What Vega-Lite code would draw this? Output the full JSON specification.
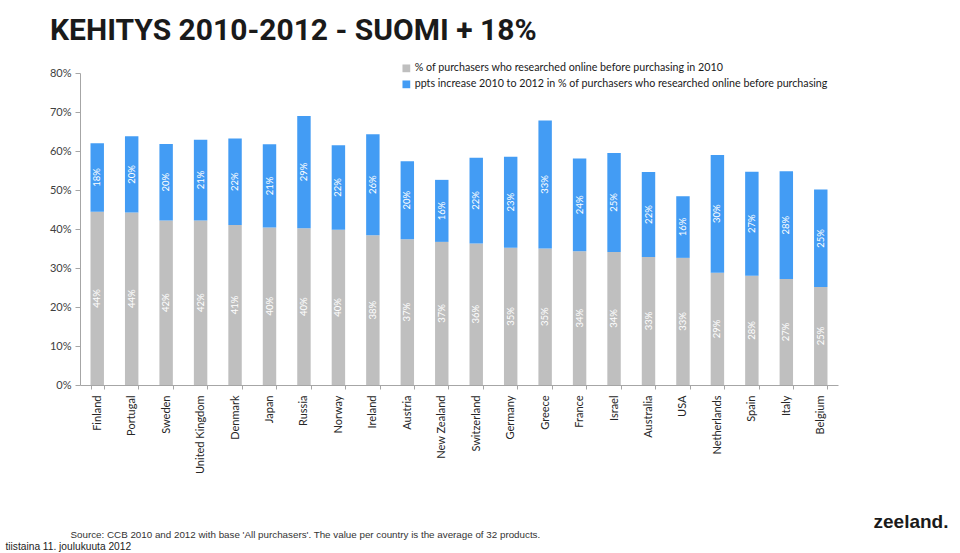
{
  "$schema": "https://vega.github.io/schema/vega-lite/v6.json",
  "width": 758,
  "height": 312,
  "autosize": {"type": "none"},
  "padding": {"left": 80, "top": 73, "right": 122, "bottom": 168},
  "background": "white",
  "config": {"view": {"stroke": null}, "font": "Lato"},
  "title": {
    "text": "KEHITYS 2010-2012 - SUOMI + 18%",
    "anchor": "start",
    "frame": "group",
    "dx": -30,
    "offset": 17,
    "font": "Roboto",
    "fontSize": 30,
    "fontWeight": "bold",
    "color": "#1a1a1a"
  },
  "data": {
    "values": [
      {"country": "Finland", "series": "% of purchasers who researched online before purchasing in 2010", "value": 0.444},
      {"country": "Finland", "series": "ppts increase 2010 to 2012 in % of purchasers who researched online before purchasing", "value": 0.176},
      {"country": "Portugal", "series": "% of purchasers who researched online before purchasing in 2010", "value": 0.442},
      {"country": "Portugal", "series": "ppts increase 2010 to 2012 in % of purchasers who researched online before purchasing", "value": 0.196},
      {"country": "Sweden", "series": "% of purchasers who researched online before purchasing in 2010", "value": 0.422},
      {"country": "Sweden", "series": "ppts increase 2010 to 2012 in % of purchasers who researched online before purchasing", "value": 0.196},
      {"country": "United Kingdom", "series": "% of purchasers who researched online before purchasing in 2010", "value": 0.422},
      {"country": "United Kingdom", "series": "ppts increase 2010 to 2012 in % of purchasers who researched online before purchasing", "value": 0.207},
      {"country": "Denmark", "series": "% of purchasers who researched online before purchasing in 2010", "value": 0.410},
      {"country": "Denmark", "series": "ppts increase 2010 to 2012 in % of purchasers who researched online before purchasing", "value": 0.222},
      {"country": "Japan", "series": "% of purchasers who researched online before purchasing in 2010", "value": 0.404},
      {"country": "Japan", "series": "ppts increase 2010 to 2012 in % of purchasers who researched online before purchasing", "value": 0.213},
      {"country": "Russia", "series": "% of purchasers who researched online before purchasing in 2010", "value": 0.402},
      {"country": "Russia", "series": "ppts increase 2010 to 2012 in % of purchasers who researched online before purchasing", "value": 0.288},
      {"country": "Norway", "series": "% of purchasers who researched online before purchasing in 2010", "value": 0.398},
      {"country": "Norway", "series": "ppts increase 2010 to 2012 in % of purchasers who researched online before purchasing", "value": 0.217},
      {"country": "Ireland", "series": "% of purchasers who researched online before purchasing in 2010", "value": 0.384},
      {"country": "Ireland", "series": "ppts increase 2010 to 2012 in % of purchasers who researched online before purchasing", "value": 0.259},
      {"country": "Austria", "series": "% of purchasers who researched online before purchasing in 2010", "value": 0.374},
      {"country": "Austria", "series": "ppts increase 2010 to 2012 in % of purchasers who researched online before purchasing", "value": 0.200},
      {"country": "New Zealand", "series": "% of purchasers who researched online before purchasing in 2010", "value": 0.367},
      {"country": "New Zealand", "series": "ppts increase 2010 to 2012 in % of purchasers who researched online before purchasing", "value": 0.159},
      {"country": "Switzerland", "series": "% of purchasers who researched online before purchasing in 2010", "value": 0.363},
      {"country": "Switzerland", "series": "ppts increase 2010 to 2012 in % of purchasers who researched online before purchasing", "value": 0.220},
      {"country": "Germany", "series": "% of purchasers who researched online before purchasing in 2010", "value": 0.352},
      {"country": "Germany", "series": "ppts increase 2010 to 2012 in % of purchasers who researched online before purchasing", "value": 0.233},
      {"country": "Greece", "series": "% of purchasers who researched online before purchasing in 2010", "value": 0.350},
      {"country": "Greece", "series": "ppts increase 2010 to 2012 in % of purchasers who researched online before purchasing", "value": 0.328},
      {"country": "France", "series": "% of purchasers who researched online before purchasing in 2010", "value": 0.343},
      {"country": "France", "series": "ppts increase 2010 to 2012 in % of purchasers who researched online before purchasing", "value": 0.238},
      {"country": "Israel", "series": "% of purchasers who researched online before purchasing in 2010", "value": 0.341},
      {"country": "Israel", "series": "ppts increase 2010 to 2012 in % of purchasers who researched online before purchasing", "value": 0.254},
      {"country": "Australia", "series": "% of purchasers who researched online before purchasing in 2010", "value": 0.328},
      {"country": "Australia", "series": "ppts increase 2010 to 2012 in % of purchasers who researched online before purchasing", "value": 0.218},
      {"country": "USA", "series": "% of purchasers who researched online before purchasing in 2010", "value": 0.326},
      {"country": "USA", "series": "ppts increase 2010 to 2012 in % of purchasers who researched online before purchasing", "value": 0.158},
      {"country": "Netherlands", "series": "% of purchasers who researched online before purchasing in 2010", "value": 0.288},
      {"country": "Netherlands", "series": "ppts increase 2010 to 2012 in % of purchasers who researched online before purchasing", "value": 0.302},
      {"country": "Spain", "series": "% of purchasers who researched online before purchasing in 2010", "value": 0.280},
      {"country": "Spain", "series": "ppts increase 2010 to 2012 in % of purchasers who researched online before purchasing", "value": 0.267},
      {"country": "Italy", "series": "% of purchasers who researched online before purchasing in 2010", "value": 0.272},
      {"country": "Italy", "series": "ppts increase 2010 to 2012 in % of purchasers who researched online before purchasing", "value": 0.276},
      {"country": "Belgium", "series": "% of purchasers who researched online before purchasing in 2010", "value": 0.251},
      {"country": "Belgium", "series": "ppts increase 2010 to 2012 in % of purchasers who researched online before purchasing", "value": 0.250}
    ]
  },
  "layer": [
    {
      "mark": {"type": "bar"},
      "encoding": {
        "x": {
          "field": "country",
          "type": "nominal",
          "sort": null,
          "scale": {"paddingInner": 0.61, "paddingOuter": 0.305},
          "axis": {
            "title": "Source: CCB 2010 and 2012 with base 'All purchasers'. The value per country is the average of 32 products.",
            "titleX": -10,
            "titleY": 152,
            "titleAlign": "left",
            "titleAnchor": "start",
            "titleBaseline": "alphabetic",
            "titleFont": "Liberation Sans",
            "titleFontSize": 9.8,
            "titleFontWeight": "normal",
            "titleColor": "#333333",
            "labelAngle": -90,
            "labelAlign": "right",
            "labelBaseline": "middle",
            "labelFont": "Lato",
            "labelFontSize": 11,
            "labelColor": "#262626",
            "labelPadding": 6,
            "tickBand": "extent",
            "tickSize": 4,
            "tickColor": "#a6a6a6",
            "domainColor": "#a6a6a6",
            "grid": false
          }
        },
        "y": {
          "field": "value",
          "type": "quantitative",
          "stack": "zero",
          "scale": {"domain": [0, 0.8], "nice": false},
          "axis": {
            "values": [0, 0.1, 0.2, 0.3, 0.4, 0.5, 0.6, 0.7, 0.8],
            "format": ".0%",
            "grid": false,
            "title": "tiistaina 11. joulukuuta 2012",
            "titleAngle": 0,
            "titleX": -75,
            "titleY": 476,
            "titleAlign": "left",
            "titleBaseline": "alphabetic",
            "titleFont": "Liberation Sans",
            "titleFontSize": 10.2,
            "titleFontWeight": "normal",
            "titleColor": "#222222",
            "labelFont": "Lato",
            "labelFontSize": 11,
            "labelColor": "#404040",
            "labelPadding": 4,
            "tickSize": 5,
            "tickColor": "#a6a6a6",
            "domainColor": "#a6a6a6"
          }
        },
        "order": {"field": "series", "sort": "ascending"},
        "color": {
          "field": "series",
          "type": "nominal",
          "scale": {
            "domain": [
              "% of purchasers who researched online before purchasing in 2010",
              "ppts increase 2010 to 2012 in % of purchasers who researched online before purchasing"
            ],
            "range": ["#bfbfbf", "#439cf4"]
          },
          "legend": {
            "title": null,
            "orient": "none",
            "legendX": 321,
            "legendY": -10,
            "symbolType": "square",
            "symbolSize": 60,
            "symbolStrokeWidth": 0,
            "labelFont": "Lato",
            "labelFontSize": 10.7,
            "labelColor": "#1a1a1a",
            "labelOffset": 3,
            "labelLimit": 600,
            "rowPadding": 4
          }
        }
      }
    },
    {
      "transform": [
        {"stack": "value", "groupby": ["country"], "sort": [{"field": "series", "order": "ascending"}], "as": ["v0", "v1"]},
        {"calculate": "(datum.v0 + datum.v1) / 2", "as": "mid"}
      ],
      "mark": {"type": "text", "angle": 270, "align": "center", "baseline": "middle", "color": "white", "font": "Lato", "fontSize": 9.5},
      "encoding": {
        "x": {"field": "country", "type": "nominal", "sort": null},
        "y": {
          "field": "mid",
          "type": "quantitative",
          "axis": {
            "orient": "right",
            "domain": false,
            "labels": false,
            "ticks": false,
            "grid": false,
            "title": "zeeland.",
            "titleAngle": 0,
            "titleX": 35,
            "titleY": 454,
            "titleAlign": "left",
            "titleBaseline": "alphabetic",
            "titleFont": "Liberation Sans",
            "titleFontSize": 19,
            "titleFontWeight": "bold",
            "titleColor": "#1a1a1a"
          }
        },
        "text": {"field": "value", "type": "quantitative", "format": ".0%"}
      }
    }
  ],
  "resolve": {"axis": {"y": "independent"}}
}
